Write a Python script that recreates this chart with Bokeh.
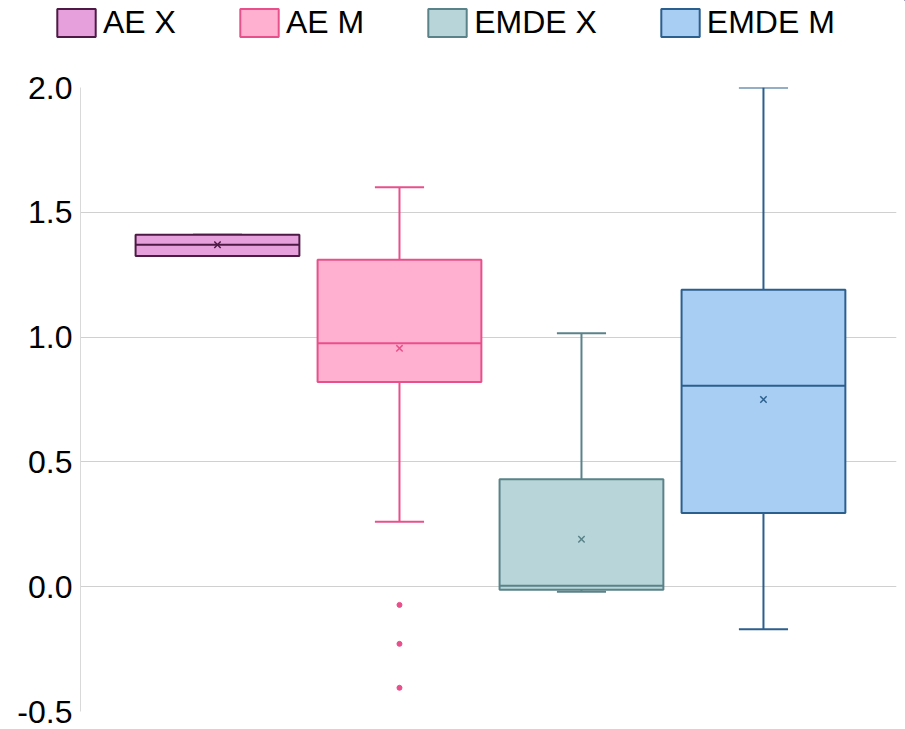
from bokeh.plotting import figure
from bokeh.layouts import column
from bokeh.models import (ColumnDataSource, Range1d, FixedTicker, NumeralTickFormatter,
                          Legend, LegendItem)
from bokeh.embed import file_html
from bokeh.resources import INLINE

# Box-plot statistics per group
groups = ["AE X", "AE M", "EMDE X", "EMDE M"]
lower_whisker = [1.325, 0.26, -0.02, -0.17]
q1 = [1.325, 0.82, -0.012, 0.295]
median = [1.37, 0.975, 0.004, 0.805]
q3 = [1.41, 1.31, 0.43, 1.19]
upper_whisker = [1.41, 1.60, 1.015, 2.0]
mean = [1.37, 0.955, 0.19, 0.75]

# Outlier points (group index, value)
outlier_group = [1, 1, 1]
outlier_value = [-0.073, -0.229, -0.405]

y_ticks = [-0.5, 0.0, 0.5, 1.0, 1.5, 2.0]

fill_colors = ["#E6A0DC", "#FFB0D0", "#B8D6D9", "#A8CEF3"]
line_colors = ["#4D1A45", "#E8508C", "#5A8289", "#2B5F8E"]

FONT = "Liberation Sans"
W = 905
LEGEND_H = 50

xs = list(range(len(groups)))
box_w = 0.90
cap_w = 0.27

src = ColumnDataSource(dict(
    x=xs, group=groups, lo=lower_whisker, q1=q1, med=median, q3=q3, hi=upper_whisker,
    mean=mean, fill=fill_colors, line=line_colors,
    x0=[x - box_w / 2 for x in xs], x1=[x + box_w / 2 for x in xs],
    c0=[x - cap_w / 2 for x in xs], c1=[x + cap_w / 2 for x in xs],
))

# ---- main box-plot figure ----
p = figure(width=W, height=729 - LEGEND_H, output_backend="svg", toolbar_location=None,
           x_range=Range1d(-0.7527, 3.731), y_range=Range1d(-0.5, 2.0),
           min_border_left=80, min_border_right=9, min_border_top=87 - LEGEND_H,
           min_border_bottom=18, frame_align=False)
p.outline_line_color = None

# whiskers (stems + caps)
p.segment(x0="x", y0="q3", x1="x", y1="hi", source=src, line_color="line", line_width=2)
p.segment(x0="x", y0="lo", x1="x", y1="q1", source=src, line_color="line", line_width=2)
p.segment(x0="c0", y0="hi", x1="c1", y1="hi", source=src, line_color="line", line_width=2)
p.segment(x0="c0", y0="lo", x1="c1", y1="lo", source=src, line_color="line", line_width=2)

# boxes
p.vbar(x="x", width=box_w, top="q3", bottom="q1", source=src,
       fill_color="fill", line_color="line", line_width=2)

# median lines
p.segment(x0="x0", y0="med", x1="x1", y1="med", source=src, line_color="line", line_width=2)

# mean markers
p.scatter(x="x", y="mean", source=src, marker="x", size=9, line_color="line", line_width=1.5)

# outliers
p.scatter(x=outlier_group, y=outlier_value, marker="circle", size=5,
          fill_color=line_colors[1], line_color=line_colors[1])

# axes and grid
p.xaxis.visible = False
p.xgrid.grid_line_color = None
yax = p.yaxis[0]
yax.ticker = FixedTicker(ticks=y_ticks)
yax.formatter = NumeralTickFormatter(format="0.0")
yax.axis_line_color = "#D9D9D9"
yax.major_tick_line_color = None
yax.minor_tick_line_color = None
yax.major_tick_out = 0
yax.major_tick_in = 0
yax.major_label_standoff = 8
yax.major_label_text_font = FONT
yax.major_label_text_font_size = "32px"
yax.major_label_text_color = "#000000"
p.ygrid.ticker = FixedTicker(ticks=y_ticks)
p.ygrid.grid_line_color = "#D0D0D0"

# ---- legend strip across the top ----
# The swatches come from the same box data, kept outside the strip's visible range.
lg = figure(width=W, height=LEGEND_H, output_backend="svg", toolbar_location=None,
            x_range=Range1d(-101, -100), y_range=Range1d(-101, -100),
            min_border_left=0, min_border_right=0, min_border_top=0, min_border_bottom=0,
            frame_align=False)
lg.outline_line_color = None
lg.xaxis.visible = False
lg.yaxis.visible = False
lg.grid.grid_line_color = None
swatches = lg.vbar(x="x", width=box_w, top="q3", bottom="q1", source=src,
                   fill_color="fill", line_color="line", line_width=2)

items = [LegendItem(label=g, renderers=[swatches], index=i) for i, g in enumerate(groups)]
legend = Legend(items=items, orientation="horizontal", location=(52, 9),
                glyph_width=48, glyph_height=35, label_standoff=3, spacing=59,
                padding=0, margin=0, border_line_color=None, background_fill_alpha=0,
                label_text_font=FONT, label_text_font_size="32px", label_text_color="#000000")
lg.add_layout(legend, "center")

layout = column(lg, p, spacing=0)
open("out.html", "w").write(file_html(layout, INLINE))
